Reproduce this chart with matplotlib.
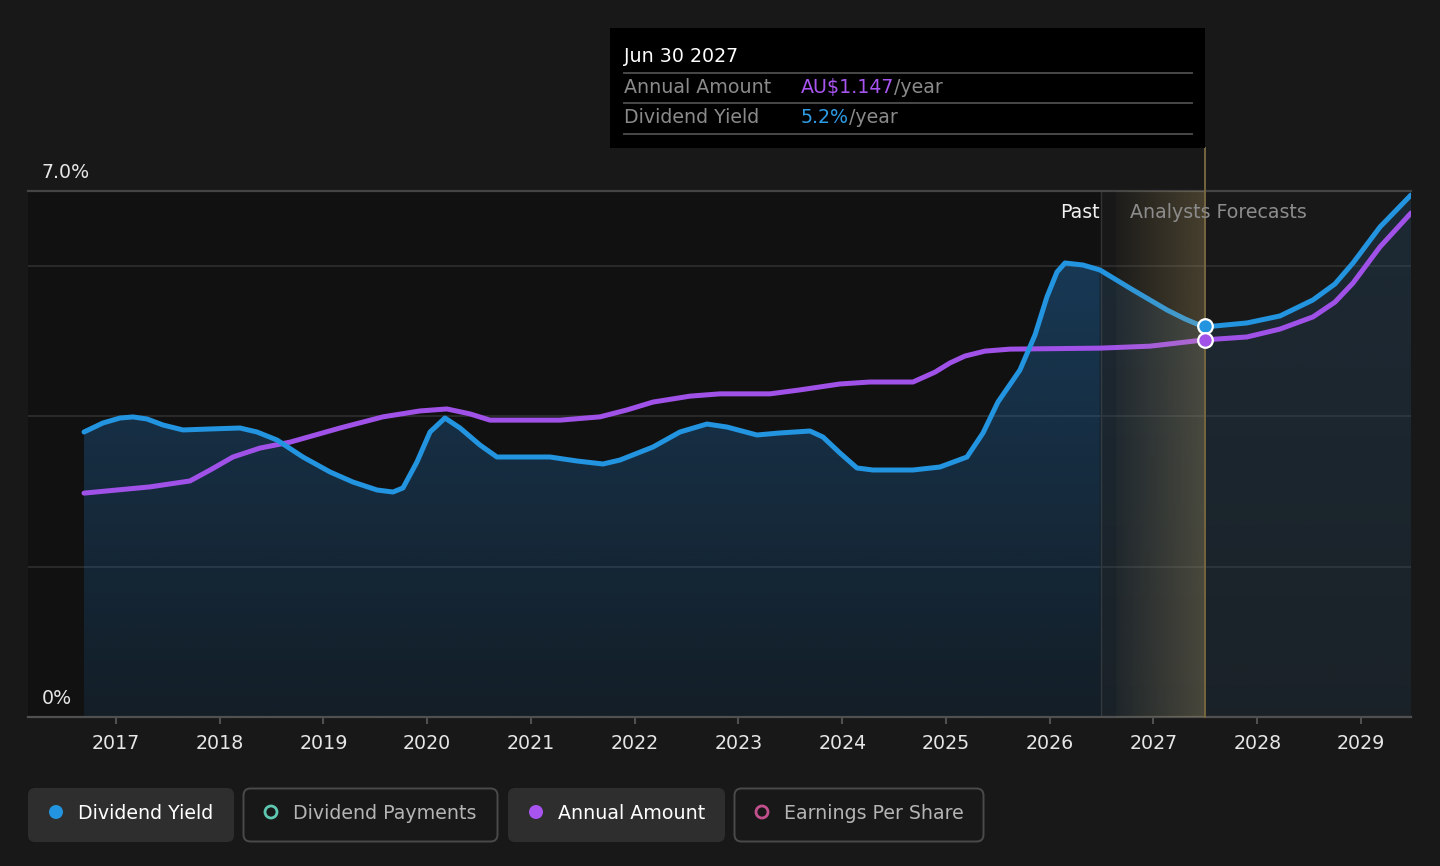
import numpy as np
import matplotlib
matplotlib.use('Agg')
import matplotlib.pyplot as plt
from matplotlib.patches import FancyBboxPatch, Rectangle, Circle
from matplotlib.transforms import blended_transform_factory

# ---------------- data ----------------
yield_years = [2016.692, 2016.875, 2017.039, 2017.164, 2017.299, 2017.453, 2017.646, 2017.906,
               2018.195, 2018.359, 2018.552, 2018.802, 2019.063, 2019.284, 2019.516, 2019.670,
               2019.766, 2019.901, 2020.027, 2020.171, 2020.316, 2020.508, 2020.672, 2021.183,
               2021.443, 2021.694, 2021.858, 2022.176, 2022.436, 2022.696, 2022.889, 2023.178,
               2023.400, 2023.689, 2023.814, 2023.978, 2024.142, 2024.296, 2024.682, 2024.942,
               2025.202, 2025.357, 2025.501, 2025.713, 2025.858, 2025.973, 2026.070, 2026.147,
               2026.320, 2026.484, 2026.802, 2027.130, 2027.304, 2027.487, 2027.901, 2028.219,
               2028.537, 2028.749, 2028.923, 2029.183, 2029.482]
yield_pct = [3.793, 3.913, 3.979, 3.993, 3.966, 3.886, 3.820, 3.833,
             3.846, 3.793, 3.686, 3.460, 3.261, 3.127, 3.021, 2.994,
             3.048, 3.394, 3.793, 3.979, 3.846, 3.620, 3.460, 3.460,
             3.407, 3.367, 3.420, 3.593, 3.793, 3.899, 3.859, 3.753,
             3.780, 3.806, 3.726, 3.513, 3.314, 3.287, 3.287, 3.327,
             3.460, 3.780, 4.192, 4.618, 5.084, 5.590, 5.922, 6.042,
             6.015, 5.949, 5.683, 5.417, 5.297, 5.190, 5.244, 5.337,
             5.550, 5.763, 6.042, 6.521, 6.947]

amount_years = [2016.692, 2017.328, 2017.713, 2017.906, 2018.128, 2018.388, 2018.677, 2019.159,
                2019.573, 2019.930, 2020.190, 2020.412, 2020.605, 2021.280, 2021.665, 2021.925,
                2022.176, 2022.533, 2022.822, 2023.304, 2023.593, 2023.978, 2024.267, 2024.682,
                2024.894, 2025.039, 2025.183, 2025.376, 2025.617, 2026.484, 2026.966, 2027.487,
                2027.901, 2028.219, 2028.537, 2028.749, 2028.923, 2029.183, 2029.482]
amount_aud = [0.681, 0.700, 0.718, 0.751, 0.791, 0.818, 0.836, 0.879,
              0.913, 0.931, 0.937, 0.922, 0.903, 0.903, 0.913, 0.934,
              0.958, 0.976, 0.983, 0.983, 0.995, 1.013, 1.019, 1.019,
              1.049, 1.077, 1.098, 1.113, 1.119, 1.122, 1.128, 1.147,
              1.156, 1.180, 1.217, 1.262, 1.320, 1.430, 1.533]

tick_years = list(range(2017, 2030))
past_end = 2026.494
band_start = 2026.639
hover_year = 2027.497
hover_amount = 1.147
hover_yield = 5.2
hover_label = "Jun 30 2027"
y_max_pct = 7.0
amount_axis_max = 1.6
legend_labels = ["Dividend Yield", "Dividend Payments", "Annual Amount", "Earnings Per Share"]

# ---------------- styling ----------------
BG = '#181818'
PAST_BG = '#111111'
BLUE = '#2394df'
PURPLE = '#a052e8'
FS = 13.7
W, H = 1440, 866

plt.rcParams['font.family'] = ['DejaVu Sans']

fig = plt.figure(figsize=(W / 100, H / 100), dpi=100, facecolor=BG)
ax = fig.add_axes([28 / W, (H - 717) / H, (1411 - 28) / W, (717 - 191) / H])
ax.set_facecolor(BG)
xmin, xmax = 2016.152, 2029.482
ax.set_xlim(xmin, xmax)
ax.set_ylim(0, y_max_pct)
ax2 = ax.twinx()
ax2.set_ylim(0, amount_axis_max)
ax2.axis('off')

for s in ['top', 'right', 'left']:
    ax.spines[s].set_visible(False)
ax.spines['bottom'].set_color('#505050')
ax.spines['bottom'].set_linewidth(1.6)
ax.set_yticks([])
ax.set_xticks(tick_years)
ax.set_xticklabels([str(t) for t in tick_years])
ax.tick_params(axis='x', colors='#505050', length=5, width=1.5, pad=7,
               labelcolor='#e6e6e6', labelsize=FS)

# past background
ax.axvspan(xmin, past_end, color=PAST_BG, zorder=0, lw=0)
ax.axvline(past_end, color='#333333', lw=1.0, zorder=1)

# gridlines
for g in [2, 4, 6]:
    ax.axhline(g, color='#2f2f2f', lw=1.2, zorder=1)
ax.axhline(7, color='#444444', lw=1.6, zorder=1, clip_on=False)

# gradient fill under yield line
poly = ax.fill_between(yield_years, yield_pct, 0, color='none', lw=0)
path = poly.get_paths()[0]
ncol, nrow = 600, 200
xs = np.linspace(xmin, xmax, ncol)
ys = np.linspace(0, 1, nrow)[:, None]
img = np.zeros((nrow, ncol, 4))
past_mask = xs < past_end
img[:, past_mask, 0] = 35 / 255
img[:, past_mask, 1] = 118 / 255
img[:, past_mask, 2] = 190 / 255
img[:, past_mask, 3] = (0.13 + 0.30 * ys) * np.ones((1, past_mask.sum()))
fm = ~past_mask
img[:, fm, 0] = 45 / 255
img[:, fm, 1] = 100 / 255
img[:, fm, 2] = 145 / 255
img[:, fm, 3] = (0.14 + 0.09 * ys) * np.ones((1, fm.sum()))
im = ax.imshow(img, extent=[xmin, xmax, 0, y_max_pct], origin='lower', aspect='auto',
               zorder=2, interpolation='bilinear')
im.set_clip_path(path, transform=ax.transData)

# lines
ax.plot(amount_years, amount_aud, color=PURPLE, lw=3.6, zorder=3,
        solid_capstyle='round', solid_joinstyle='round', transform=ax2.transData)
ax.plot(yield_years, yield_pct, color=BLUE, lw=3.6, zorder=3.5,
        solid_capstyle='round', solid_joinstyle='round')

# highlight band (forecast start -> hover)
nb = 200
band = np.zeros((1, nb, 4))
band[0, :, 0] = 215 / 255
band[0, :, 1] = 185 / 255
band[0, :, 2] = 115 / 255
band[0, :, 3] = np.linspace(0.03, 0.25, nb)
ax.imshow(band, extent=[band_start, hover_year, 0, y_max_pct], origin='lower',
          aspect='auto', zorder=4, interpolation='bilinear')
ax.set_xlim(xmin, xmax)
ax.set_ylim(0, y_max_pct)

# hover line and markers
ax.axvline(hover_year, ymin=0, ymax=(717 - 148) / (717 - 191), color='#75653f', lw=1.4,
           zorder=5, clip_on=False)
ax.plot([hover_year], [hover_yield], 'o', ms=10.5, mfc=BLUE, mec='white', mew=1.6, zorder=7)
ax.plot([hover_year], [hover_amount], 'o', ms=10.5, mfc=PURPLE, mec='white', mew=1.6, zorder=7,
        transform=ax2.transData)

# y labels
bt = blended_transform_factory(ax.transAxes, ax.transData)
for val, lab in [(7, '7.0%'), (0, '0%')]:
    ax.annotate(lab, xy=(0, val), xycoords=bt, xytext=(14 / 1.389, 9.2),
                textcoords='offset points', va='baseline', ha='left',
                color='#e6e6e6', fontsize=FS, zorder=8, annotation_clip=False)

# Past / Analysts Forecasts
ax.annotate('Past', xy=(past_end, 6.72), xytext=(-1, 0), textcoords='offset points',
            ha='right', va='center', color='#f0f0f0', fontsize=FS, zorder=8)
ax.annotate('Analysts Forecasts', xy=(past_end, 6.72), xytext=(29 / 1.389, 0),
            textcoords='offset points', ha='left', va='center', color='#8c8c8c',
            fontsize=FS, zorder=8)

# ---------------- overlay (tooltip + legend) ----------------
oax = fig.add_axes([0, 0, 1, 1], zorder=10)
oax.set_xlim(0, W)
oax.set_ylim(H, 0)
oax.axis('off')
oax.patch.set_alpha(0)

oax.add_patch(Rectangle((610, 28), 595, 120, facecolor='#000000', edgecolor='none'))
for yy in [72.5, 102.5, 133.5]:
    oax.plot([624, 1192], [yy, yy], color='#484848', lw=1.4)
oax.text(624, 62, hover_label, color='#ffffff', fontsize=FS, va='baseline', ha='left')
oax.text(624, 93, 'Annual Amount', color='#8a8a8a', fontsize=FS, va='baseline', ha='left')
t1 = oax.text(801, 93, 'AU$' + f'{hover_amount:.3f}', color='#a855f0', fontsize=FS,
              va='baseline', ha='left')
oax.annotate('/year', xy=(1, 0), xycoords=t1, va='bottom', ha='left', color='#8a8a8a',
             fontsize=FS)
oax.text(624, 123, 'Dividend Yield', color='#8a8a8a', fontsize=FS, va='baseline', ha='left')
t2 = oax.text(801, 123, f'{hover_yield:.1f}%', color='#2d9be6', fontsize=FS,
              va='baseline', ha='left')
oax.annotate('/year', xy=(1, 0), xycoords=t2, va='bottom', ha='left', color='#8a8a8a',
             fontsize=FS)

# legend buttons
items = [
    (28, 206, True, BLUE, True, '#ffffff'),
    (243, 255, False, '#5ec7b0', False, '#b4b4b4'),
    (508, 217, True, '#a855f0', True, '#ffffff'),
    (734, 250, False, '#c2508c', False, '#b4b4b4'),
]
for (x0, w, filled, mcol, solid, tcol), lab in zip(items, legend_labels):
    if filled:
        box = FancyBboxPatch((x0, 788), w, 54, boxstyle='round,pad=0,rounding_size=7',
                             facecolor='#2e2e2e', edgecolor='none')
    else:
        box = FancyBboxPatch((x0 + 0.5, 788.5), w - 1, 53, boxstyle='round,pad=0,rounding_size=7',
                             facecolor='none', edgecolor='#4a4a4a', lw=1.4)
    oax.add_patch(box)
    cx = x0 + 28
    if solid:
        oax.add_patch(Circle((cx, 812), 7, facecolor=mcol, edgecolor='none'))
    else:
        oax.add_patch(Circle((cx, 812), 6, facecolor='none', edgecolor=mcol, lw=2.0))
    oax.text(x0 + 50, 819, lab, color=tcol, fontsize=FS, va='baseline', ha='left')

fig.savefig('out.png', dpi=100, facecolor=BG)
